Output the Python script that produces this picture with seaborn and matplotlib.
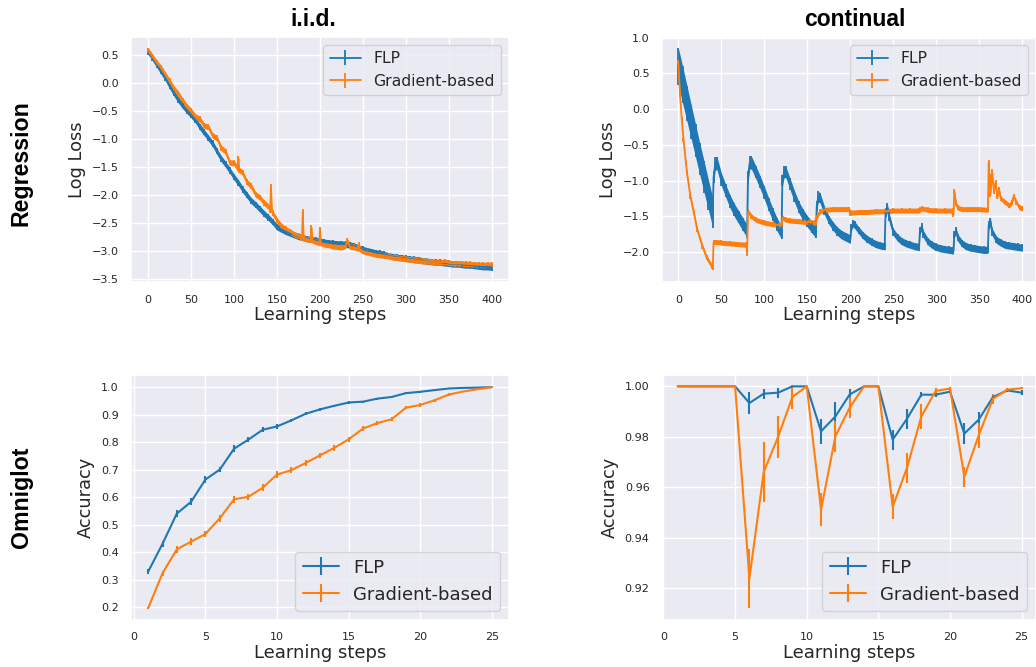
import numpy as np
import matplotlib
matplotlib.use('Agg')
import matplotlib.pyplot as plt
import seaborn as sns

# ---- data ----
# Regression, i.i.d.
iid_steps = np.arange(0, 401, 5)
iid_loss_flp = [0.56, 0.45, 0.33, 0.21, 0.09, -0.05, -0.18, -0.30, -0.40, -0.49,
                -0.57, -0.66, -0.78, -0.88, -0.98, -1.08, -1.22, -1.35, -1.45, -1.56,
                -1.68, -1.78, -1.90, -2.00, -2.10, -2.17, -2.25, -2.33, -2.40, -2.48,
                -2.57, -2.61, -2.65, -2.68, -2.71, -2.74, -2.76, -2.78, -2.79, -2.81,
                -2.82, -2.84, -2.85, -2.86, -2.87, -2.87, -2.88, -2.89, -2.91, -2.94,
                -2.97, -2.99, -3.01, -3.03, -3.04, -3.06, -3.08, -3.10, -3.11, -3.12,
                -3.13, -3.14, -3.15, -3.16, -3.17, -3.18, -3.19, -3.20, -3.20, -3.21,
                -3.22, -3.23, -3.23, -3.24, -3.25, -3.25, -3.26, -3.27, -3.28, -3.28,
                -3.29]
iid_err_flp = 0.055

iid_steps_grad = [0, 5, 10, 15, 20, 25, 30, 35, 40, 45, 50, 55, 60, 65, 70, 75, 80, 85,
                  90, 95, 100, 104, 105, 106, 110, 115, 120, 125, 130, 135, 140, 142,
                  143, 144, 145, 150, 155, 160, 165, 170, 175, 179, 180, 181, 185, 189,
                  190, 191, 195, 199, 200, 201, 205, 210, 215, 220, 225, 230, 232, 235,
                  240, 244, 245, 246, 250, 255, 260, 265, 270, 275, 280, 285, 290, 295,
                  300, 305, 310, 315, 320, 325, 330, 335, 340, 345, 350, 355, 360, 365,
                  370, 375, 380, 385, 390, 395, 400]
iid_loss_grad = [0.58, 0.47, 0.36, 0.27, 0.15, 0.03, -0.10, -0.19, -0.31, -0.42, -0.50,
                 -0.60, -0.64, -0.76, -0.78, -0.94, -0.98, -1.16, -1.22, -1.42, -1.43,
                 -1.52, -1.35, -1.55, -1.60, -1.77, -1.84, -1.99, -2.04, -2.14, -2.20,
                 -2.27, -1.85, -2.27, -2.32, -2.45, -2.55, -2.61, -2.65, -2.70, -2.73,
                 -2.76, -2.30, -2.77, -2.79, -2.80, -2.58, -2.81, -2.83, -2.85, -2.62,
                 -2.86, -2.88, -2.89, -2.91, -2.92, -2.93, -2.90, -2.82, -2.92, -2.93,
                 -2.95, -2.88, -2.96, -3.00, -3.02, -3.04, -3.06, -3.07, -3.08, -3.09,
                 -3.11, -3.12, -3.13, -3.14, -3.15, -3.16, -3.17, -3.18, -3.18, -3.19,
                 -3.20, -3.20, -3.19, -3.21, -3.22, -3.22, -3.22, -3.23, -3.23, -3.24,
                 -3.24, -3.25, -3.24, -3.25]
iid_err_grad = 0.05

# Regression, continual
cont_steps_flp = [0, 5, 10, 15, 20, 25, 30, 35, 40,
                  41, 43, 45, 50, 55, 60, 65, 70, 75, 80,
                  81, 83, 85, 90, 95, 100, 105, 110, 115, 120,
                  121, 123, 125, 130, 135, 140, 145, 150, 155, 160,
                  161, 163, 165, 170, 175, 180, 185, 190, 195, 200,
                  201, 203, 205, 210, 215, 220, 225, 230, 235, 240,
                  241, 243, 245, 250, 255, 260, 265, 270, 275, 280,
                  281, 283, 285, 290, 295, 300, 305, 310, 315, 320,
                  321, 323, 325, 330, 335, 340, 345, 350, 355, 360,
                  361, 363, 365, 370, 375, 380, 385, 390, 395, 400]
cont_loss_flp = [0.60, 0.34, 0.08, -0.18, -0.44, -0.70, -0.95, -1.20, -1.45,
                 -0.95, -0.76, -0.76, -0.98, -1.14, -1.29, -1.41, -1.51, -1.61, -1.71,
                 -0.95, -0.75, -0.75, -0.88, -1.02, -1.17, -1.33, -1.48, -1.62, -1.73,
                 -1.00, -0.88, -0.88, -1.05, -1.22, -1.37, -1.48, -1.57, -1.65, -1.72,
                 -1.35, -1.22, -1.25, -1.42, -1.55, -1.64, -1.71, -1.76, -1.79, -1.82,
                 -1.66, -1.60, -1.62, -1.70, -1.77, -1.82, -1.86, -1.89, -1.91, -1.92,
                 -1.45, -1.38, -1.50, -1.72, -1.80, -1.85, -1.88, -1.90, -1.92, -1.93,
                 -1.70, -1.65, -1.75, -1.85, -1.90, -1.93, -1.95, -1.96, -1.97, -1.98,
                 -1.75, -1.70, -1.80, -1.88, -1.92, -1.94, -1.95, -1.96, -1.97, -1.97,
                 -1.62, -1.58, -1.72, -1.83, -1.87, -1.90, -1.91, -1.92, -1.93, -1.94]
cont_err_flp = [0.26, 0.26, 0.25, 0.24, 0.23, 0.22, 0.22, 0.21, 0.21,
                0.09, 0.09, 0.09, 0.09, 0.09, 0.09, 0.09, 0.09, 0.09, 0.09,
                0.09, 0.09, 0.09, 0.09, 0.09, 0.09, 0.09, 0.09, 0.09, 0.09,
                0.08, 0.08, 0.08, 0.08, 0.08, 0.08, 0.08, 0.08, 0.08, 0.08,
                0.07, 0.07, 0.07, 0.06, 0.06, 0.06, 0.06, 0.06, 0.06, 0.06,
                0.05, 0.05, 0.05, 0.05, 0.05, 0.05, 0.05, 0.05, 0.05, 0.05,
                0.06, 0.06, 0.06, 0.05, 0.05, 0.05, 0.05, 0.05, 0.05, 0.05,
                0.05, 0.05, 0.05, 0.05, 0.05, 0.05, 0.05, 0.05, 0.05, 0.05,
                0.05, 0.05, 0.05, 0.05, 0.05, 0.05, 0.05, 0.05, 0.05, 0.05,
                0.06, 0.06, 0.05, 0.05, 0.05, 0.05, 0.05, 0.05, 0.05, 0.05]

cont_steps_grad = [0, 2, 4, 6, 10, 14, 18, 22, 28, 33, 39, 40,
                   41, 45, 50, 60, 70, 79, 80,
                   81, 85, 90, 100, 110, 120,
                   121, 125, 130, 140, 150, 159, 160,
                   161, 165, 170, 180, 190, 199, 200,
                   201, 210, 220, 230, 240,
                   241, 250, 260, 270, 280,
                   281, 283, 290, 300, 310, 319, 320,
                   321, 323, 325, 330, 340, 350, 360,
                   361, 362, 363, 365, 367, 369, 371, 373, 375, 380, 385, 388, 390,
                   393, 397, 400]
cont_loss_grad = [0.65, 0.20, -0.15, -0.42, -0.89, -1.22, -1.45, -1.69, -1.92, -2.08,
                  -2.20, -2.22,
                  -1.86, -1.86, -1.87, -1.88, -1.89, -1.90, -2.02,
                  -1.43, -1.50, -1.55, -1.59, -1.61, -1.63,
                  -1.52, -1.55, -1.56, -1.57, -1.58, -1.59, -1.62,
                  -1.50, -1.43, -1.41, -1.40, -1.40, -1.40, -1.46,
                  -1.45, -1.44, -1.44, -1.43, -1.43,
                  -1.43, -1.42, -1.42, -1.42, -1.42,
                  -1.41, -1.39, -1.41, -1.42, -1.42, -1.42, -1.48,
                  -1.15, -1.32, -1.38, -1.40, -1.40, -1.40, -1.41,
                  -0.75, -0.95, -1.20, -0.88, -1.15, -1.02, -1.22, -1.12, -1.25, -1.30,
                  -1.35, -1.30, -1.22, -1.30, -1.38, -1.39]
cont_err_grad = 0.035

# Omniglot
omni_steps = list(range(1, 26))
iid_acc_flp = [0.329, 0.43, 0.54, 0.583, 0.664, 0.70, 0.776, 0.809, 0.845, 0.857,
               0.879, 0.903, 0.919, 0.932, 0.944, 0.947, 0.958, 0.964, 0.978, 0.983,
               0.989, 0.995, 0.997, 0.998, 1.0]
iid_acc_flp_err = [0.01, 0.01, 0.012, 0.012, 0.012, 0.01, 0.012, 0.01, 0.01, 0.008,
                   0.006, 0.005, 0.005, 0.004, 0.004, 0.004, 0.004, 0.004, 0.004, 0.003,
                   0.003, 0.002, 0.002, 0.001, 0.001]
iid_acc_grad = [0.196, 0.323, 0.41, 0.438, 0.466, 0.523, 0.592, 0.601, 0.634, 0.682,
                0.698, 0.724, 0.752, 0.779, 0.81, 0.849, 0.869, 0.883, 0.925, 0.935,
                0.952, 0.973, 0.984, 0.992, 1.0]
iid_acc_grad_err = [0.003, 0.01, 0.012, 0.012, 0.012, 0.012, 0.012, 0.012, 0.012, 0.012,
                    0.012, 0.01, 0.01, 0.01, 0.01, 0.01, 0.008, 0.008, 0.006, 0.006,
                    0.005, 0.004, 0.003, 0.002, 0.001]

cont_acc_flp = [1.0, 1.0, 1.0, 1.0, 1.0, 0.9934, 0.9971, 0.9975, 1.0, 1.0,
                0.9822, 0.9881, 0.9968, 1.0, 1.0, 0.9789, 0.9872, 0.9967, 0.9967, 0.9979,
                0.9813, 0.9868, 0.9958, 0.9984, 0.9975]
cont_acc_flp_err = [0, 0, 0, 0, 0, 0.0044, 0.002, 0.002, 0.0005, 0,
                    0.005, 0.0057, 0.002, 0, 0, 0.004, 0.004, 0.001, 0.001, 0.0005,
                    0.004, 0.003, 0.001, 0.0005, 0.001]
cont_acc_grad = [1.0, 1.0, 1.0, 1.0, 1.0, 0.924, 0.9661, 0.98, 0.9958, 1.0,
                 0.9512, 0.9802, 0.9916, 1.0, 1.0, 0.9523, 0.9678, 0.9881, 0.9982, 0.9991,
                 0.9642, 0.9806, 0.9951, 0.9987, 0.9993]
cont_acc_grad_err = [0, 0, 0, 0, 0, 0.0117, 0.0117, 0.0082, 0.0046, 0,
                     0.0064, 0.006, 0.004, 0, 0, 0.005, 0.006, 0.005, 0.001, 0.0005,
                     0.004, 0.005, 0.002, 0.0005, 0.0005]

BLUE = '#1f77b4'
ORANGE = '#ff7f0e'

sns.set_theme(style='darkgrid')
plt.rcParams['font.family'] = ['DejaVu Sans']

W, H = 1036, 667
fig = plt.figure(figsize=(W / 100, H / 100), dpi=100)


def box(left, top, right, bottom):
    return [left / W, 1 - bottom / H, (right - left) / W, (bottom - top) / H]


ax_tl = fig.add_axes(box(131, 37, 509, 282))
ax_tr = fig.add_axes(box(662, 37, 1036, 282))
ax_bl = fig.add_axes(box(131, 375, 509, 620))
ax_br = fig.add_axes(box(662, 375, 1036, 620))


def band_plot(ax, x, y, err, color, label):
    x = np.asarray(x)
    y = np.asarray(y)
    e = np.broadcast_to(np.asarray(err, dtype=float), y.shape)
    ax.fill_between(x, y - e, y + e, color=color, lw=0)
    ax.errorbar(x, y, yerr=e, color=color, lw=1.3, elinewidth=1.3, label=label)


# top-left
band_plot(ax_tl, iid_steps, iid_loss_flp, iid_err_flp, BLUE, 'FLP')
band_plot(ax_tl, iid_steps_grad, iid_loss_grad, iid_err_grad, ORANGE, 'Gradient-based')
ax_tl.set_xlim(-20, 420)
ax_tl.set_ylim(-3.55, 0.82)
ax_tl.set_xticks(np.arange(0, 401, 50))
ax_tl.set_yticks(np.arange(-3.5, 0.51, 0.5))
ax_tl.set_ylabel('Log Loss', fontsize=12.8)
ax_tl.legend(loc='upper right', fontsize=11.3)

# top-right
band_plot(ax_tr, cont_steps_flp, cont_loss_flp, cont_err_flp, BLUE, 'FLP')
band_plot(ax_tr, cont_steps_grad, cont_loss_grad, cont_err_grad, ORANGE, 'Gradient-based')
ax_tr.set_xlim(-19, 416)
ax_tr.set_ylim(-2.42, 1.01)
ax_tr.set_xticks(np.arange(0, 401, 50))
ax_tr.set_yticks(np.arange(-2.0, 1.01, 0.5))
ax_tr.set_ylabel('Log Loss', fontsize=12.8)
ax_tr.legend(loc='upper right', fontsize=11.3)

# bottom-left
ax_bl.errorbar(omni_steps, iid_acc_flp, yerr=iid_acc_flp_err, color=BLUE, lw=1.5, label='FLP')
ax_bl.errorbar(omni_steps, iid_acc_grad, yerr=iid_acc_grad_err, color=ORANGE, lw=1.5,
               label='Gradient-based')
ax_bl.set_xlim(-0.2, 26.2)
ax_bl.set_ylim(0.153, 1.044)
ax_bl.set_xticks(np.arange(0, 26, 5))
ax_bl.set_yticks(np.arange(0.2, 1.01, 0.1))
ax_bl.set_ylabel('Accuracy', fontsize=12.8)
ax_bl.legend(loc='lower right', fontsize=13)

# bottom-right
ax_br.errorbar(omni_steps, cont_acc_flp, yerr=cont_acc_flp_err, color=BLUE, lw=1.5, label='FLP')
ax_br.errorbar(omni_steps, cont_acc_grad, yerr=cont_acc_grad_err, color=ORANGE, lw=1.5,
               label='Gradient-based')
ax_br.set_xlim(-0.1, 26)
ax_br.set_ylim(0.9075, 1.0045)
ax_br.set_xticks(np.arange(0, 26, 5))
ax_br.set_yticks([0.92, 0.94, 0.96, 0.98, 1.00])
ax_br.set_yticklabels(['0.92', '0.94', '0.96', '0.98', '1.00'])
ax_br.set_ylabel('Accuracy', fontsize=12.8)
ax_br.legend(loc='lower right', fontsize=13)

for ax in (ax_tl, ax_tr, ax_bl, ax_br):
    ax.set_xlabel('Learning steps', fontsize=13, labelpad=1)
    ax.tick_params(labelsize=8, pad=3)

title_font = dict(family='Liberation Sans', fontweight='bold', fontsize=16.5, color='black')
fig.text(313 / W, 1 - 26 / H, 'i.i.d.', ha='center', va='baseline', **title_font)
fig.text(855 / W, 1 - 26 / H, 'continual', ha='center', va='baseline', **title_font)
fig.text(21 / W, 1 - 163 / H, 'Regression', rotation=90, ha='center', va='center',
         family='Liberation Sans', fontweight='bold', fontsize=16.7, color='black')
fig.text(21 / W, 1 - 497 / H, 'Omniglot', rotation=90, ha='center', va='center',
         family='Liberation Sans', fontweight='bold', fontsize=16.7, color='black')

fig.savefig('out.png', dpi=100)
